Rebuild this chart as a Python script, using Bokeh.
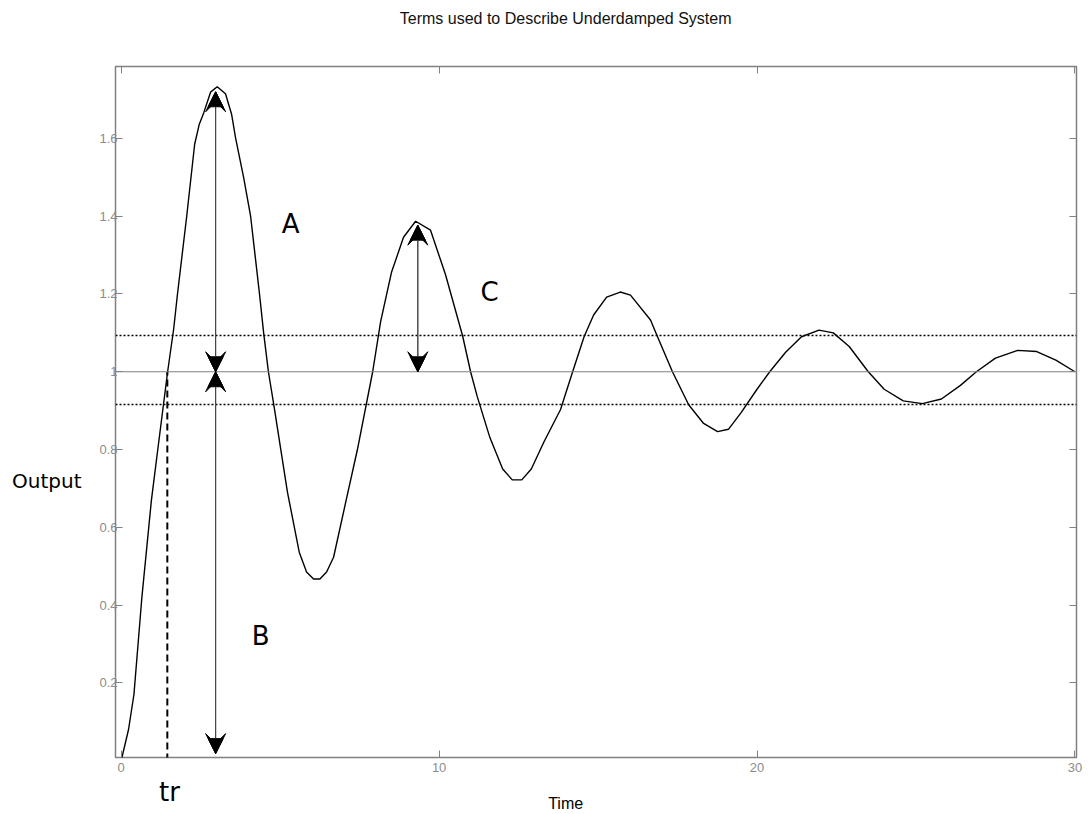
from bokeh.plotting import figure
from bokeh.models import (Range1d, Span, Arrow, VeeHead, NormalHead, Label, LinearAxis,
                          FixedTicker, CustomJSTickFormatter, ColumnDataSource)
from bokeh.embed import file_html
from bokeh.resources import INLINE

# ---- data ----
time = [0, 0.23, 0.4, 0.65, 0.95, 1.15, 1.46, 1.65, 1.77, 2.06, 2.31, 2.45, 2.6, 2.81, 3.02,
        3.28, 3.47, 3.6, 3.85, 4.07, 4.35, 4.48, 4.63, 4.8, 5.02, 5.23, 5.6, 5.83, 6.05, 6.25,
        6.46, 6.68, 7.05, 7.43, 7.91, 8.16, 8.5, 8.88, 9.26, 9.73, 10.2, 10.74, 10.99, 11.2,
        11.6, 12.0, 12.3, 12.6, 12.9, 13.3, 13.82, 14.2, 14.56, 14.86, 15.27, 15.7, 16.02,
        16.65, 16.87, 17.34, 17.85, 18.32, 18.76, 19.1, 19.5, 20.0, 20.4, 20.9, 21.4, 21.95,
        22.4, 22.9, 23.5, 24.0, 24.6, 25.2, 25.8, 26.4, 26.9, 27.5, 28.2, 28.8, 29.4, 30.0]
output = [0, 0.08, 0.17, 0.42, 0.67, 0.80, 1.00, 1.11, 1.20, 1.40, 1.585, 1.635, 1.667, 1.719,
          1.733, 1.715, 1.663, 1.60, 1.50, 1.40, 1.20, 1.10, 1.00, 0.915, 0.80, 0.69, 0.536,
          0.485, 0.467, 0.467, 0.485, 0.523, 0.66, 0.80, 1.00, 1.129, 1.255, 1.346, 1.387,
          1.364, 1.25, 1.092, 1.0, 0.936, 0.83, 0.75, 0.722, 0.722, 0.75, 0.82, 0.903, 1.0,
          1.09, 1.146, 1.192, 1.205, 1.197, 1.133, 1.09, 1.0, 0.915, 0.867, 0.846, 0.852,
          0.895, 0.955, 1.0, 1.05, 1.09, 1.107, 1.10, 1.065, 1.0, 0.955, 0.925, 0.918, 0.93,
          0.965, 1.0, 1.035, 1.055, 1.052, 1.03, 1.0]

steady_state = 1.0
band_levels = [1.093, 0.916]
rise_time = 1.45
rise_line_y = [0.0, 1.0]

arrow_x = [2.97, 2.97, 9.33]
arrow_y_start = [1.0, 1.0, 1.0]
arrow_y_end = [1.72, 0.018, 1.377]

note_text = ["A", "B", "C"]
note_x = [5.33, 4.39, 11.59]
note_y = [1.379, 0.32, 1.205]

x_ticks = [0, 10, 20, 30]
y_ticks = [0.2, 0.4, 0.6, 0.8, 1.0, 1.2, 1.4, 1.6]

title_text = "Terms used to Describe Underdamped System"
x_label = "Time"
y_label = "Output"
rise_label = "tr"

# where the outer texts sit along their axes (data units)
title_pos = [13.98]
x_label_pos = [13.98]
y_label_pos = [0.72]
rise_label_pos = [1.52]

# ---- figure ----
p = figure(width=1092, height=814, x_range=Range1d(-0.18, 30.05), y_range=Range1d(0.008, 1.785),
           output_backend="svg", toolbar_location=None,
           min_border_left=115, min_border_right=16, min_border_top=66, min_border_bottom=55)
p.xgrid.visible = False
p.ygrid.visible = False
p.outline_line_color = "#808080"
p.outline_line_width = 1.5
p.background_fill_color = "white"
p.border_fill_color = "white"

tick_font = "Liberation Sans"
tick_color = "#8c8c8c"

for ax, ticks in ((p.xaxis[0], x_ticks), (p.yaxis[0], y_ticks)):
    ax.ticker = FixedTicker(ticks=ticks)
    ax.axis_line_color = None
    ax.major_tick_in = 7
    ax.major_tick_out = 0
    ax.major_tick_line_color = "#808080"
    ax.minor_tick_line_color = None
    ax.major_label_text_font = tick_font
    ax.major_label_text_font_size = "13px"
    ax.major_label_text_color = tick_color

p.yaxis[0].formatter = CustomJSTickFormatter(code="return tick.toFixed(1).replace(/\\.0$/, '');")
p.yaxis[0].major_label_standoff = -2
p.xaxis[0].major_label_standoff = 5

# mirrored ticks on top and right
top_axis = LinearAxis(ticker=FixedTicker(ticks=x_ticks),
                      formatter=CustomJSTickFormatter(code="return '';"))
right_axis = LinearAxis(ticker=FixedTicker(ticks=y_ticks),
                        formatter=CustomJSTickFormatter(code="return '';"))
for ax in (top_axis, right_axis):
    ax.axis_line_color = None
    ax.major_tick_in = 7
    ax.major_tick_out = 0
    ax.major_tick_line_color = "#808080"
    ax.minor_tick_line_color = None
    ax.major_label_standoff = 0
    ax.major_label_text_font_size = "1px"
p.add_layout(top_axis, "above")
p.add_layout(right_axis, "right")


def text_axis(pos, text, font, size, color, standoff):
    ax = LinearAxis(ticker=FixedTicker(ticks=pos),
                    formatter=CustomJSTickFormatter(code="return " + repr(text) + ";"))
    ax.axis_line_color = None
    ax.major_tick_line_color = None
    ax.minor_tick_line_color = None
    ax.major_tick_in = 0
    ax.major_tick_out = 0
    ax.major_label_standoff = standoff
    ax.major_label_text_font = font
    ax.major_label_text_font_size = size
    ax.major_label_text_color = color
    return ax


# chart title (above the mirrored top ticks)
p.add_layout(text_axis(title_pos, title_text, "Liberation Sans", "16px", "#111111", 40), "above")
# y label, horizontal, left of the tick labels
p.add_layout(text_axis(y_label_pos, y_label, "DejaVu Sans", "20px", "black", 15), "left")
# "tr" under the rise-time line, then the x label on the same band
p.add_layout(text_axis(rise_label_pos, rise_label, "DejaVu Sans", "26px", "black", 2), "below")
p.add_layout(text_axis(x_label_pos, x_label, "Liberation Sans", "16px", "black", -15), "below")

# reference lines
p.add_layout(Span(location=steady_state, dimension="width", line_color="#808080", line_width=1.2))
for lvl in band_levels:
    p.add_layout(Span(location=lvl, dimension="width", line_color="black",
                      line_width=1.5, line_dash="2 2"))

# response curve
p.line(time, output, line_color="black", line_width=1.4)

# rise-time dashed line
p.segment(x0=[rise_time], y0=[rise_line_y[0]], x1=[rise_time], y1=[rise_line_y[1]],
          line_color="black", line_width=2, line_dash="7 4")

# double-headed arrows: a vee head with its notch filled by a smaller solid head
src = ColumnDataSource(dict(x0=arrow_x, y0=arrow_y_start, x1=arrow_x, y1=arrow_y_end))
p.add_layout(Arrow(x_start="x0", y_start="y0", x_end="x1", y_end="y1", source=src,
                   line_color="#444444", line_width=1,
                   start=VeeHead(size=20, fill_color="black", fill_alpha=1.0,
                                 line_color="black", line_width=1),
                   end=VeeHead(size=20, fill_color="black", fill_alpha=1.0,
                               line_color="black", line_width=1)))
p.add_layout(Arrow(x_start="x0", y_start="y0", x_end="x1", y_end="y1", source=src,
                   line_color="#444444", line_width=1,
                   start=NormalHead(size=15, fill_color="black", line_color="black",
                                    line_width=1),
                   end=NormalHead(size=15, fill_color="black", line_color="black",
                                  line_width=1)))

# letter annotations
for t, x, y in zip(note_text, note_x, note_y):
    p.add_layout(Label(x=x, y=y, text=t, text_font="DejaVu Sans", text_font_size="26px",
                       text_color="black", text_align="center", text_baseline="alphabetic"))

open("out.html", "w").write(file_html(p, INLINE))
